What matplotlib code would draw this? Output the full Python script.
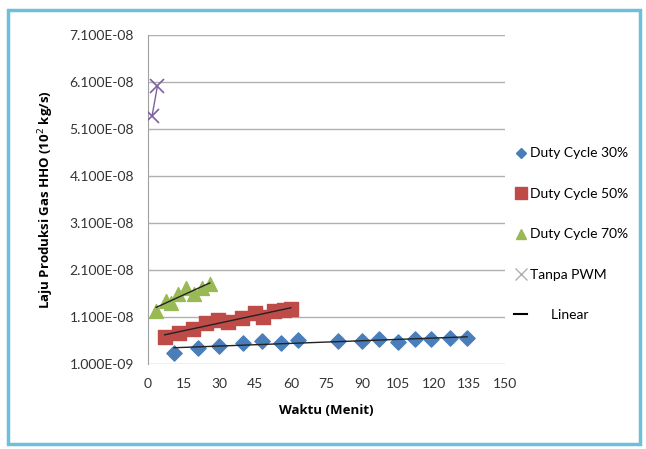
import numpy as np
import matplotlib
matplotlib.use("Agg")
import matplotlib.pyplot as plt
from matplotlib.lines import Line2D
from matplotlib.patches import Rectangle

plt.rcParams['font.family'] = ['Lato', 'DejaVu Sans']

# waktu (menit) dan laju produksi gas HHO
t30 = [11, 21, 30, 40, 48, 56, 63, 80, 90, 97, 105, 112, 119, 127, 134]
y30 = [3.3e-9, 4.5e-9, 4.9e-9, 5.4e-9, 5.9e-9, 5.6e-9, 6.2e-9, 5.9e-9, 5.9e-9,
       6.4e-9, 5.7e-9, 6.3e-9, 6.4e-9, 6.6e-9, 6.6e-9]

t50 = [7, 13, 19, 24.5, 29.5, 33.5, 39.5, 45, 48.5, 53, 57, 60]
y50 = [6.7e-9, 7.7e-9, 8.5e-9, 9.8e-9, 1.03e-8, 9.9e-9, 1.09e-8, 1.18e-8,
       1.1e-8, 1.23e-8, 1.26e-8, 1.28e-8]

t70 = [3.5, 7.5, 9.5, 12.5, 16, 19.5, 22.5, 26]
y70 = [1.23e-8, 1.44e-8, 1.40e-8, 1.6e-8, 1.72e-8, 1.6e-8, 1.73e-8, 1.8e-8]

t_pwm = [1.7, 4.0]
y_pwm = [5.37e-8, 6.02e-8]

yticks = [1e-9, 1.1e-8, 2.1e-8, 3.1e-8, 4.1e-8, 5.1e-8, 6.1e-8, 7.1e-8]
xticks = [0, 15, 30, 45, 60, 75, 90, 105, 120, 135, 150]

fig = plt.figure(figsize=(6.46, 4.49), dpi=100)
ax = fig.add_axes([0.229, 0.189, 0.553, 0.733])

ax.scatter(t30, y30, marker='D', s=60, color='#4a7ebb', zorder=3)
ax.scatter(t50, y50, marker='s', s=115, color='#be4b48', zorder=3)
ax.scatter(t70, y70, marker='^', s=100, color='#98b954', zorder=3)
ax.plot(t_pwm, y_pwm, color='#7d60a0', lw=1, marker='x', ms=10, mew=1.2, zorder=3)

# garis linear
for t, y in [(t30, y30), (t50, y50), (t70, y70)]:
    k, b = np.polyfit(t, y, 1)
    xs = np.array([min(t), max(t)])
    ax.plot(xs, k * xs + b, color='#222222', lw=1, zorder=4)

ax.set_xlim(0, 150)
ax.set_ylim(1e-9, 7.1e-8)
ax.set_xticks(xticks)
ax.set_yticks(yticks)
ax.set_yticklabels(['%.3E' % v for v in yticks])
ax.tick_params(length=0, labelsize=10, pad=10, labelcolor='#333333')
ax.grid(axis='y', color='#b0b0b0', lw=1)
ax.set_axisbelow(True)
for s in ['top', 'right', 'bottom']:
    ax.spines[s].set_visible(False)
ax.spines['left'].set_color('#a0a0a0')

bold = dict(family=['Open Sans', 'DejaVu Sans'], fontweight='bold', fontsize=9.5)
ax.set_xlabel('Waktu (Menit)', labelpad=10, **bold)
ax.set_ylabel('Laju Produksi Gas HHO (10$^{2}$ kg/s)', labelpad=10, **bold)

handles = [
    Line2D([], [], ls='', marker='D', ms=5, color='#4a7ebb'),
    Line2D([], [], ls='', marker='s', ms=8, color='#be4b48'),
    Line2D([], [], ls='', marker='^', ms=7, color='#98b954'),
    Line2D([], [], ls='', marker='x', ms=8, color='#b0b0b0'),
    Line2D([], [], color='black', lw=1.5),
]
labels = ['Duty Cycle 30%', 'Duty Cycle 50%', 'Duty Cycle 70%', 'Tanpa PWM', '      Linear']
fig.legend(handles, labels, loc='center left', bbox_to_anchor=(0.777, 0.478),
           frameon=False, fontsize=10, labelspacing=2.05, handlelength=0.9,
           handletextpad=0.25)

fig.add_artist(Rectangle((0.012, 0.012), 0.978, 0.965, transform=fig.transFigure,
                         fill=False, edgecolor='#6cc0dc', lw=2.5))

fig.savefig('out.png', dpi=100)
